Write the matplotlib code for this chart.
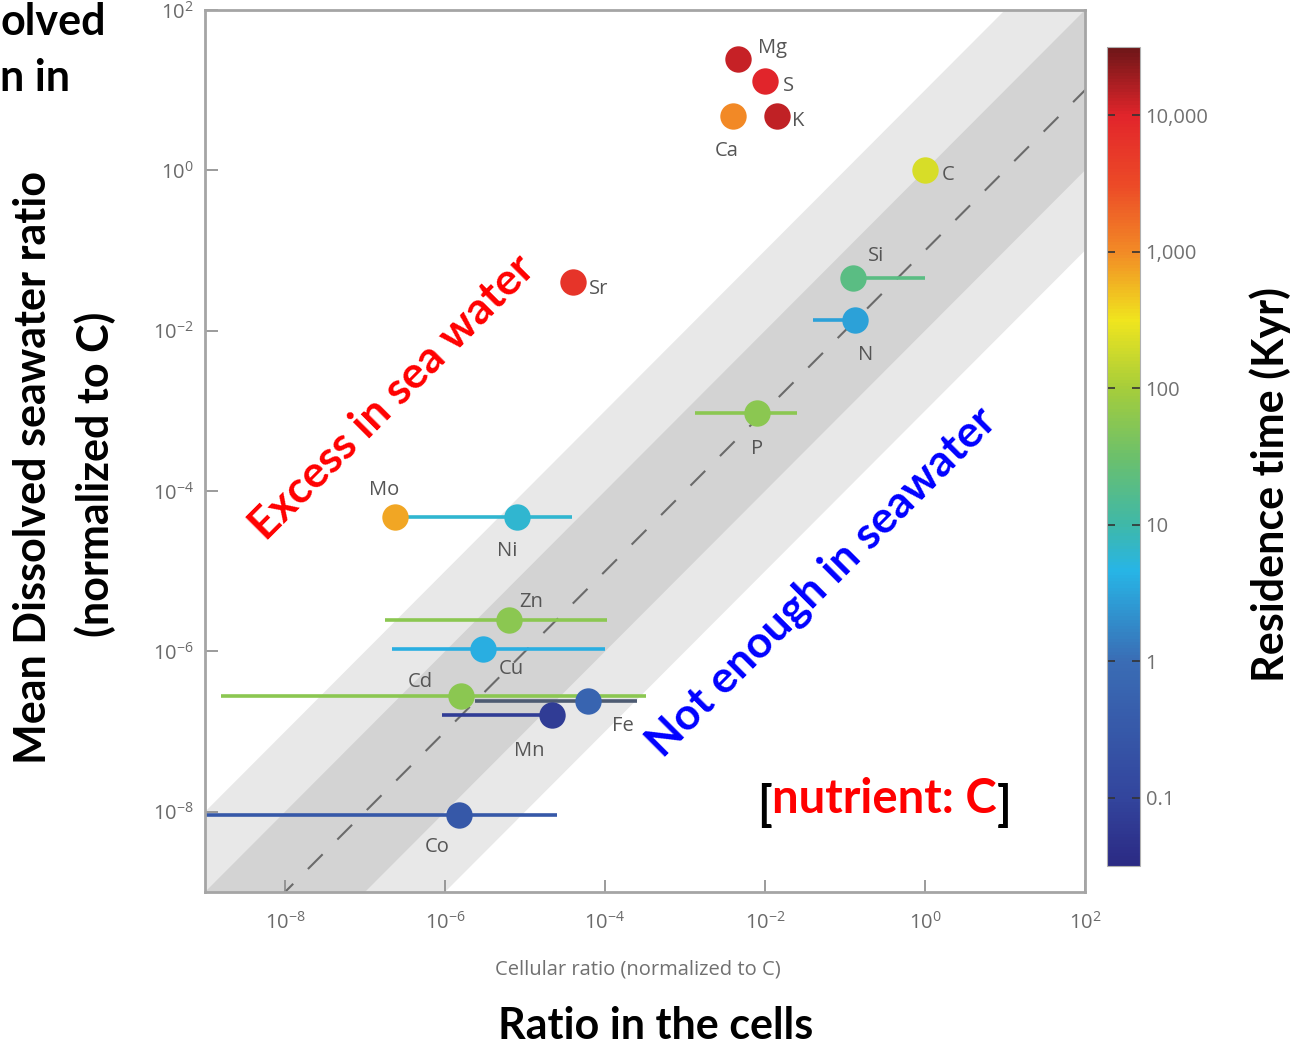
import numpy as np
import matplotlib
matplotlib.use("Agg")
import matplotlib.pyplot as plt
from matplotlib.colors import LinearSegmentedColormap, LogNorm
from matplotlib.cm import ScalarMappable
from matplotlib.ticker import FixedLocator, NullLocator, FuncFormatter

plt.rcParams['font.family'] = ['Open Sans', 'DejaVu Sans']
plt.rcParams['mathtext.fontset'] = 'custom'
plt.rcParams['mathtext.rm'] = 'Open Sans'

# element data
elements = ['Mg', 'S', 'K', 'Ca', 'C', 'Si', 'N', 'P', 'Sr', 'Mo',
            'Ni', 'Zn', 'Cu', 'Cd', 'Fe', 'Mn', 'Co']
cell_ratio = [4.6e-3, 1.0e-2, 1.4e-2, 4.0e-3, 1.0, 0.126, 0.133, 7.9e-3, 4.0e-5, 2.4e-7,
              7.9e-6, 6.3e-6, 3.0e-6, 1.6e-6, 6.2e-5, 2.2e-5, 1.5e-6]
cell_low = [4.6e-3, 1.0e-2, 1.4e-2, 4.0e-3, 1.0, 0.12, 0.04, 1.33e-3, 4.0e-5, 2.4e-7,
            3.2e-7, 1.8e-7, 2.2e-7, 1.6e-9, 2.4e-6, 9.1e-7, 5e-10]
cell_high = [4.6e-3, 1.0e-2, 1.4e-2, 4.0e-3, 1.0, 1.0, 0.15, 0.025, 4.0e-5, 2.4e-7,
             3.9e-5, 1.06e-4, 1.0e-4, 3.3e-4, 2.5e-4, 2.2e-5, 2.5e-5]
sea_ratio = [24.5, 12.9, 4.7, 4.7, 1.0, 0.046, 0.0138, 9.3e-4, 0.041, 4.7e-5,
             4.7e-5, 2.5e-6, 1.06e-6, 2.8e-7, 2.4e-7, 1.6e-7, 9.1e-9]
residence = [13000, 10000, 13500, 1000, 220, 20, 3, 60, 6000, 700,
             6, 60, 4, 60, 0.6, 0.07, 0.3]
# label offsets in pixels (dx, dy)
label_dx = [34, 23, 21, -6, 23, 23, 11, 0, 25, -11, -10, 22, 28, -41, 34, -23, -22]
label_dy = [11, -5, -5, -35, -5, 22, -35, -36, -7, 27, -34, 18, -20, 14, -25, -36, -32]

# bands around the 1:1 region (factors of cellular ratio)
light_band = [1e-3, 1e1]
dark_band = [1e-2, 1e0]
mid_line = 1e-1

tick_powers = [-8, -6, -4, -2, 0, 2]
cbar_ticks = [0.1, 1, 10, 100, 1000, 10000]
cbar_labels = ['0.1', '1', '10', '100', '1,000', '10,000']

cmap = LinearSegmentedColormap.from_list('res', [
    (0.0, '#2b2a84'), (0.083, '#33459d'), (0.25, '#3a6db5'), (0.36, '#27b5e6'),
    (0.417, '#3fb8a8'), (0.5, '#6cc06b'), (0.583, '#a5cd3b'), (0.667, '#f0e51e'),
    (0.75, '#f28b26'), (0.833, '#ec4a27'), (0.917, '#e2252b'), (1.0, '#6e1618')])
norm = LogNorm(10**-1.5, 10**4.5)

fig = plt.figure(figsize=(12.99, 10.45), dpi=100)
ax = fig.add_axes([205/1299, 1 - 892/1045, 880/1299, 882/1045])

xx = np.array([1e-10, 1e3])
ax.fill_between(xx, xx * light_band[0], xx * light_band[1], color='#e8e8e8', lw=0, zorder=0)
ax.fill_between(xx, xx * dark_band[0], xx * dark_band[1], color='#d3d3d3', lw=0, zorder=0)
ax.plot(xx, xx * mid_line, color='#6a6a6a', lw=1.5, dashes=(10, 10), zorder=1)

for i, el in enumerate(elements):
    c = cmap(norm(residence[i]))
    bar_c = '#4d5b72' if el == 'Fe' else c
    if cell_high[i] > cell_low[i]:
        ax.plot([cell_low[i], cell_high[i]], [sea_ratio[i], sea_ratio[i]],
                color=bar_c, lw=2.6, zorder=2, solid_capstyle='butt')
    ax.plot(cell_ratio[i], sea_ratio[i], 'o', ms=19, color=c, mec='none', zorder=3)
    ax.annotate(el, (cell_ratio[i], sea_ratio[i]), xytext=(label_dx[i], label_dy[i]),
                textcoords='offset pixels', ha='center', va='center',
                fontsize=14.5, color='#555555', zorder=4)

ax.set_xscale('log')
ax.set_yscale('log')
ax.set_xlim(1e-9, 1e2)
ax.set_ylim(1e-9, 1e2)
fmt = FuncFormatter(lambda v, p: r'$10^{%d}$' % round(np.log10(v)))
for axis in (ax.xaxis, ax.yaxis):
    axis.set_major_locator(FixedLocator([10.0**p for p in tick_powers]))
    axis.set_minor_locator(NullLocator())
    axis.set_major_formatter(fmt)
ax.tick_params(axis='both', direction='in', length=9, width=1.2, color='#8a8a8a',
               labelcolor='#6a6a6a', labelsize=14.5)
ax.tick_params(axis='x', pad=14)
ax.tick_params(axis='y', pad=8)
for s in ax.spines.values():
    s.set_color('#a5a5a5')
    s.set_linewidth(2.0)

bold_fam = ['Lato', 'DejaVu Sans']
ax.text(0.2125, 0.561, 'Excess in sea water', transform=ax.transAxes, rotation=45,
        ha='center', va='center', fontsize=32, fontweight='bold', color='#ff0000',
        family=bold_fam)
ax.text(0.70, 0.3515, 'Not enough in seawater', transform=ax.transAxes, rotation=45,
        ha='center', va='center', fontsize=32, fontweight='bold', color='#0000ff',
        family=bold_fam)
t = ax.text(0.772, 0.09, 'nutrient: C', transform=ax.transAxes, ha='center',
            va='baseline', fontsize=34, fontweight='bold', color='#ff0000',
            family=bold_fam)
ax.annotate('[', xy=(0, 0), xycoords=t, ha='right', va='baseline', fontsize=34,
            fontweight='bold', color='black', family=bold_fam)
ax.annotate(']', xy=(1, 0), xycoords=t, ha='left', va='baseline', fontsize=34,
            fontweight='bold', color='black', family=bold_fam)

# colorbar
cax = fig.add_axes([1107/1299, 1 - 866/1045, 33/1299, 819/1045])
sm = ScalarMappable(norm=norm, cmap=cmap)
cb = fig.colorbar(sm, cax=cax)
cb.set_ticks(cbar_ticks)
cb.set_ticklabels(cbar_labels)
cax.yaxis.set_minor_locator(NullLocator())
cax.tick_params(direction='in', left=True, right=True, length=6, width=1.2,
                color='#333333', labelcolor='#707070', labelsize=14.5, pad=4)
cb.outline.set_edgecolor('#b0b0b0')

# outer labels
bold = dict(fontweight='bold', color='black', family=bold_fam)
fig.text(638/1299, 1 - 970/1045, 'Cellular ratio (normalized to C)', ha='center',
         va='center', fontsize=14.5, color='#707070')
fig.text(656/1299, 1 - 1026/1045, 'Ratio in the cells', ha='center', va='center',
         fontsize=31, **bold)
fig.text(33/1299, 1 - 468/1045, 'Mean Dissolved seawater ratio', rotation=90,
         ha='center', va='center', fontsize=31, **bold)
fig.text(95/1299, 1 - 474/1045, '(normalized to C)', rotation=90,
         ha='center', va='center', fontsize=31, **bold)
fig.text(1270/1299, 1 - 484/1045, 'Residence time (Kyr)', rotation=90,
         ha='center', va='center', fontsize=31, **bold)
fig.text(0, 1 - 22/1045, 'olved', ha='left', va='center', fontsize=31, **bold)
fig.text(0, 1 - 78/1045, 'n in', ha='left', va='center', fontsize=31, **bold)

fig.savefig('out.png', dpi=100)
